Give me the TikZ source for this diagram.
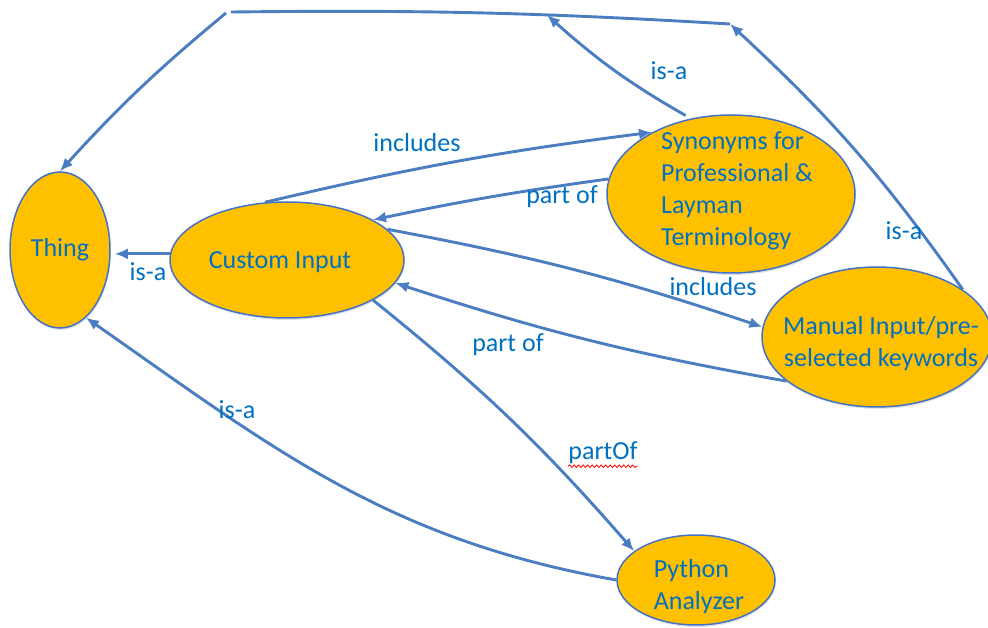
\documentclass[tikz,border=0pt]{standalone}
\usepackage{fontspec}
\setmainfont{Carlito}
\usetikzlibrary{shapes.geometric,arrows.meta,decorations.pathmorphing,shadows}
\definecolor{linkblue}{RGB}{74,126,193}
\definecolor{textblue}{RGB}{0,112,192}
\definecolor{conceptgold}{RGB}{255,192,0}
\definecolor{rimblue}{RGB}{68,114,196}
\begin{document}
\begin{tikzpicture}[x=1pt,y=-1pt,
  bigtext/.style={font=\fontsize{26}{32}\selectfont, text=textblue},
  concept/.style={ellipse, fill=conceptgold, draw=rimblue, line width=1.5pt,
    inner sep=0pt,
    drop shadow={opacity=0.22, shadow xshift=0.8pt, shadow yshift=-2pt}},
  conceptText/.style={bigtext, inner sep=0pt, align=left},
  link/.style={draw=linkblue, line width=2.9pt, -{Latex[length=13pt,width=11pt]}},
  plainlink/.style={draw=linkblue, line width=2.9pt},
  rel/.style={bigtext, inner sep=0pt}
]
\useasboundingbox (0,0) rectangle (988,628);

% concepts
\node[concept, minimum width=100pt, minimum height=156pt,
  label={[conceptText]center:Thing}] (thing) at (60,250) {};
\node[concept, minimum width=234pt, minimum height=116pt,
  label={[conceptText, xshift=-7pt, yshift=-2pt]center:Custom Input}] (ci) at (287,260) {};
\node[concept, minimum width=248pt, minimum height=158pt,
  label={[conceptText, xshift=6pt, yshift=3pt]center:{Synonyms for\\Professional \&\\Layman\\Terminology}}] (syn) at (731,194) {};
\node[concept, minimum width=230pt, minimum height=140pt,
  label={[conceptText, align=center, xshift=4pt, yshift=-7pt]center:{Manual Input/pre-\\selected keywords}}] (man) at (877,337) {};
\node[concept, minimum width=158pt, minimum height=90pt,
  label={[conceptText, xshift=3pt, yshift=-7pt]center:{Python\\Analyzer}}] (py) at (696,580) {};

% joints on the upper line
\coordinate (topA) at (231,12);
\coordinate (topB) at (226,13);
\coordinate (topR) at (730,24);
\coordinate (synJoin) at (547,15);

% connectors
\draw[link, shorten >=4pt] (ci.177) -- (thing.east |- ci.177);
\draw[link] (ci.111) to[bend left=3] (syn.142);
\draw[link] (syn.173) to[bend right=2] (ci.25);
\draw[link] (ci.17) to[bend left=4] (man.175);
\draw[link] (man.206) to[bend left=4] (ci.-12);
\draw[link] (ci.-25) to[bend left=5] (py.155);
\draw[link] (py.west) to[out=170, in=-35] (thing.-69);
\draw[link] (man.29) to[bend right=6] (topR);
\draw[link, shorten <=6pt] (syn.118) to[bend left=6] (synJoin);
\draw[plainlink] (topR) to[bend right=2] (topA);
\draw[link] (topB) to[bend right=4] (thing.north);

% relation labels
\node[rel] (lIncTop) at (417,143) {includes};
\node[rel] (lPartSyn) at (562,197) {part of};
\node[rel] (lIsaCi) at (148,272) {is-a};
\node[rel] (lIsaSyn) at (669,71) {is-a};
\node[rel] (lIsaMan) at (904,231) {is-a};
\node[rel] (lIncMan) at (713,287) {includes};
\node[rel] (lPartMan) at (508,345) {part of};
\node[rel] (lPartOf) at (603,453) {partOf};
\node[rel] (lIsaPy) at (237,410) {is-a};

% spelling mark under partOf
\draw[red, line width=0.8pt, decorate,
  decoration={snake, amplitude=1.3pt, segment length=4.5pt}]
  ([yshift=-2pt]lPartOf.south west) -- ([yshift=-2pt]lPartOf.south east);
\end{tikzpicture}
\end{document}
